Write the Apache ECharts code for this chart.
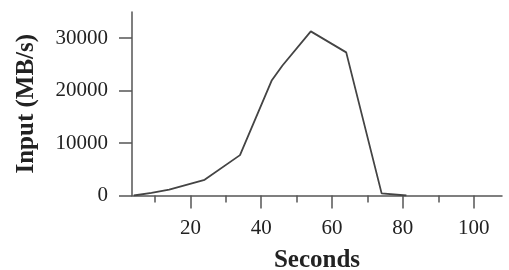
<!DOCTYPE html>
<html>
<head>
<meta charset="utf-8">
<script src="https://cdn.jsdelivr.net/npm/echarts@6/dist/echarts.min.js"></script>
<style>
  html, body { margin: 0; padding: 0; background: #fff; }
  #chart { width: 509px; height: 270px; }
</style>
</head>
<body>
<div id="chart"></div>
<script>
// data
const seconds = [4, 9, 14, 24, 34, 43, 46, 54, 64, 74, 81];
const inputMBs = [0, 500, 1100, 3000, 7700, 22000, 24800, 31300, 27300, 400, 0];
const xMajorTicks = [20, 40, 60, 80, 100];
const xMinorTicks = [10, 30, 50, 70, 90];
const yTicks = [0, 10000, 20000, 30000];

const font = "Liberation Serif";
const axisColor = "#555";
const textColor = "#222";
const gridBox = { left: 132, right: 7, top: 12, bottom: 74.5, outerBoundsMode: "none" };

const chart = echarts.init(document.getElementById("chart"));
chart.setOption({
  animation: false,
  grid: [
    Object.assign({}, gridBox),
    Object.assign({}, gridBox)
  ],
  xAxis: [
    {
      type: "value",
      gridIndex: 0,
      min: 3.5,
      max: 108,
      name: "Seconds",
      nameLocation: "middle",
      nameGap: 53,
      nameTextStyle: { fontFamily: font, fontWeight: "bold", fontSize: 25, color: textColor },
      axisLine: { lineStyle: { color: axisColor, width: 1.5 } },
      axisTick: { customValues: xMajorTicks, length: 13, lineStyle: { color: axisColor, width: 1.5 } },
      axisLabel: { customValues: xMajorTicks, margin: 22, fontFamily: font, fontSize: 21, color: textColor,
        formatter: v => String(v) },
      splitLine: { show: false }
    },
    {
      type: "value",
      gridIndex: 1,
      min: 3.5,
      max: 108,
      axisLine: { show: false },
      axisTick: { customValues: xMinorTicks, length: 7, lineStyle: { color: axisColor, width: 1.5 } },
      axisLabel: { show: false },
      splitLine: { show: false }
    }
  ],
  yAxis: [
    {
      type: "value",
      gridIndex: 0,
      min: 0,
      max: 35000,
      name: "Input (MB/s)",
      nameLocation: "middle",
      nameGap: 93,
      nameTextStyle: { fontFamily: font, fontWeight: "bold", fontSize: 25, color: textColor },
      axisLine: { show: true, lineStyle: { color: axisColor, width: 1.5 } },
      axisTick: { show: true, customValues: yTicks, length: 13, lineStyle: { color: axisColor, width: 1.5 } },
      axisLabel: { customValues: yTicks, margin: 24, fontFamily: font, fontSize: 21, color: textColor,
        formatter: v => String(v) },
      splitLine: { show: false }
    },
    {
      type: "value",
      gridIndex: 1,
      min: 0,
      max: 35000,
      show: false
    }
  ],
  series: [
    {
      type: "line",
      xAxisIndex: 0,
      yAxisIndex: 0,
      data: seconds.map((s, i) => [s, inputMBs[i]]),
      showSymbol: false,
      lineStyle: { color: "#444", width: 1.8 }
    }
  ]
});
</script>
</body>
</html>
